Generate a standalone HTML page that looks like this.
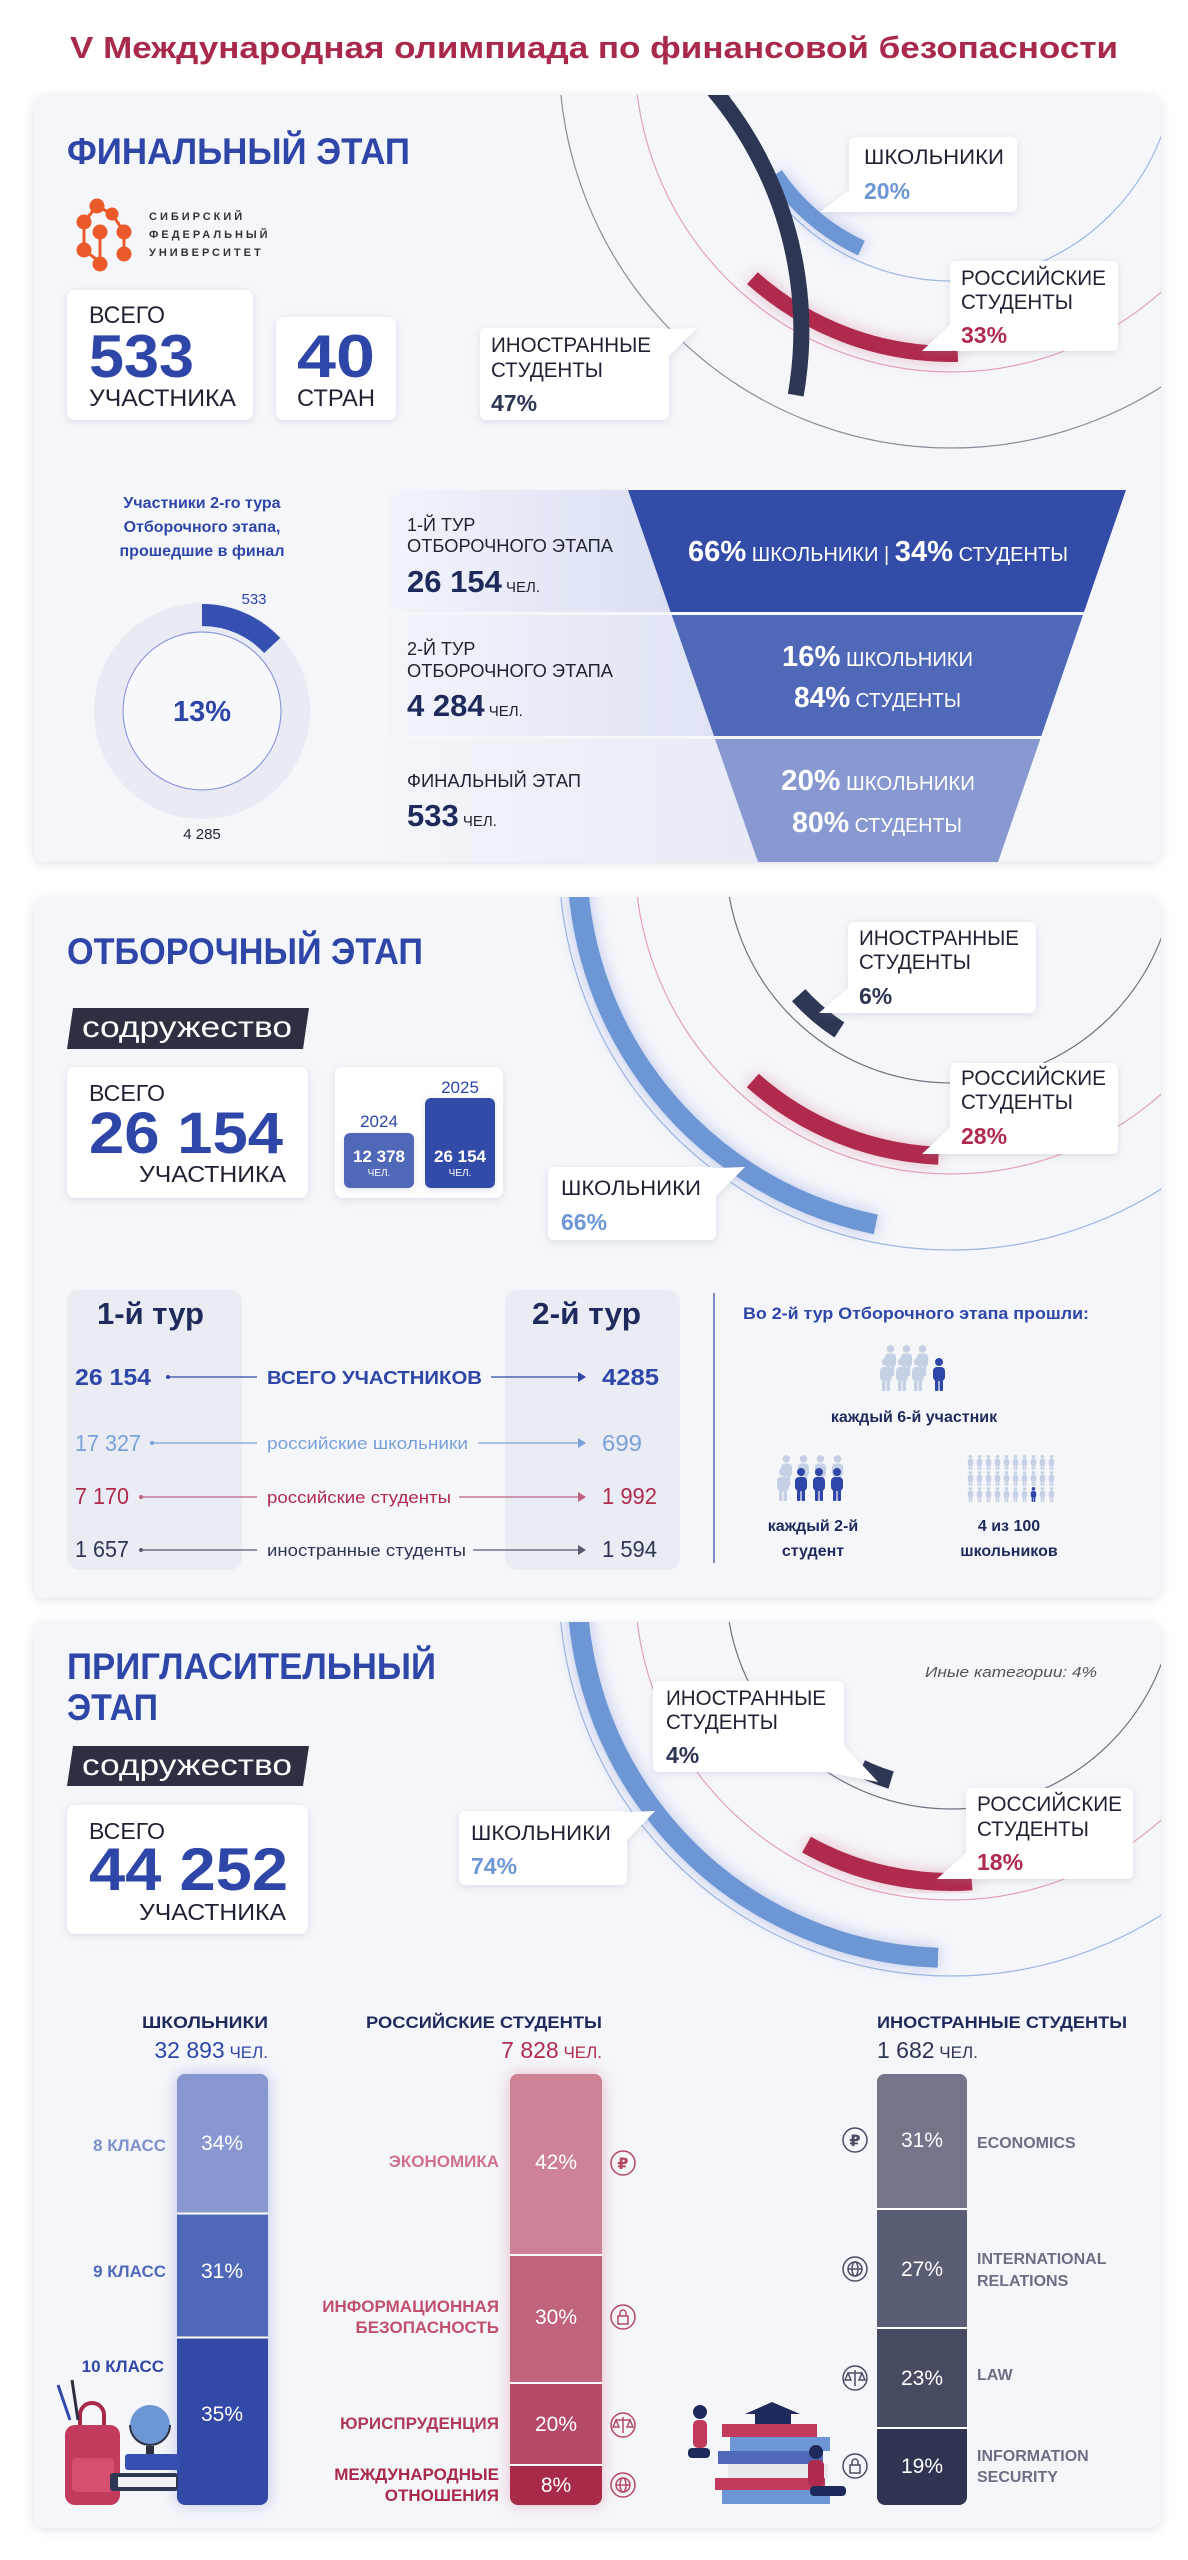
<!DOCTYPE html>
<html><head><meta charset="utf-8"><style>
html,body{margin:0;padding:0;background:#fff;}
svg{display:block;}
text{font-family:"Liberation Sans","DejaVu Sans",sans-serif;}
</style></head><body>
<svg width="1188" height="2560" viewBox="0 0 1188 2560" xmlns="http://www.w3.org/2000/svg">
<defs>
<filter id="sh" x="-20%" y="-20%" width="140%" height="140%"><feDropShadow dx="0" dy="2" stdDeviation="4" flood-color="#8890b0" flood-opacity="0.25"/></filter>
<filter id="csh" x="-5%" y="-5%" width="110%" height="110%"><feDropShadow dx="0" dy="2" stdDeviation="5" flood-color="#9098b0" flood-opacity="0.3"/></filter>
<filter id="glow" x="-30%" y="-30%" width="160%" height="160%"><feDropShadow dx="0" dy="0" stdDeviation="8" flood-color="#6d86d8" flood-opacity="0.45"/></filter>
<filter id="glowr" x="-30%" y="-30%" width="160%" height="160%"><feDropShadow dx="0" dy="0" stdDeviation="8" flood-color="#d06080" flood-opacity="0.4"/></filter>
<clipPath id="c1"><rect x="33" y="95" width="1128" height="767" rx="12"/></clipPath>
<clipPath id="c2"><rect x="33" y="897" width="1128" height="701" rx="12"/></clipPath>
<clipPath id="c3"><rect x="33" y="1622" width="1128" height="906" rx="12"/></clipPath>
<linearGradient id="band" x1="0" x2="1" y1="0" y2="0"><stop offset="0" stop-color="#f2f4fa"/><stop offset="1" stop-color="#d9dff2"/></linearGradient>
<symbol id="p" viewBox="0 0 14 33"><circle cx="7" cy="4" r="4"/><rect x="1" y="9" width="12" height="14" rx="4"/><rect x="3" y="20" width="3.4" height="13" rx="1"/><rect x="7.6" y="20" width="3.4" height="13" rx="1"/></symbol>
</defs>

<!-- Title -->
<text x="594" y="58" text-anchor="middle" font-size="31" font-weight="bold" fill="#a8294a" textLength="1048" lengthAdjust="spacingAndGlyphs">V Международная олимпиада по финансовой безопасности</text>

<!-- ============ CARD 1 ============ -->
<rect x="33" y="95" width="1128" height="767" rx="12" fill="#f5f6fa" filter="url(#csh)"/>
<g clip-path="url(#c1)" fill="none">
<circle cx="951" cy="56" r="225" stroke="#9db6e2" stroke-width="1.2"/>
<circle cx="951" cy="56" r="316" stroke="#e2a2b4" stroke-width="1.2"/>
<circle cx="951" cy="56" r="392" stroke="#8a8c9c" stroke-width="1.2"/>
<path d="M775.2,174.6 A212,212 0 0 0 861.4,248.1" stroke="#6d96d4" stroke-width="16" filter="url(#glow)"/>
<path d="M752.4,278.2 A298,298 0 0 0 957.8,353.9" stroke="#b02a4e" stroke-width="16" filter="url(#glowr)"/>
<path d="M583.7,-8.8 A373,373 0 0 1 795.7,395.1" stroke="#2d3652" stroke-width="16"/>
</g>
<text x="67" y="164" font-size="37" font-weight="bold" fill="#2e46a8" textLength="343" lengthAdjust="spacingAndGlyphs">ФИНАЛЬНЫЙ ЭТАП</text>
<!-- logo -->
<g fill="#ea5a2a" stroke="#ea5a2a" stroke-width="3">
<line x1="97" y1="206" x2="84" y2="222"/><line x1="97" y1="206" x2="112" y2="214"/><line x1="112" y1="214" x2="124" y2="232"/><line x1="84" y1="222" x2="84" y2="250"/><line x1="84" y1="250" x2="100" y2="262"/><line x1="124" y1="232" x2="124" y2="254"/><line x1="100" y1="232" x2="100" y2="262"/>
<circle cx="97" cy="206" r="6"/><circle cx="112" cy="214" r="5"/><circle cx="84" cy="222" r="6"/><circle cx="124" cy="232" r="6"/><circle cx="100" cy="232" r="6"/><circle cx="84" cy="250" r="6"/><circle cx="124" cy="254" r="6"/><circle cx="100" cy="264" r="6"/>
</g>
<g font-size="11" fill="#333" font-weight="bold" letter-spacing="3">
<text x="149" y="220">СИБИРСКИЙ</text><text x="149" y="238">ФЕДЕРАЛЬНЫЙ</text><text x="149" y="256">УНИВЕРСИТЕТ</text></g>
<!-- boxes -->
<rect x="67" y="290" width="186" height="130" rx="8" fill="#fff" filter="url(#sh)"/>
<text x="89" y="323" font-size="24" fill="#1f2233" textLength="76" lengthAdjust="spacingAndGlyphs">ВСЕГО</text>
<text x="89" y="377" font-size="60" font-weight="bold" fill="#2e46a8" textLength="105" lengthAdjust="spacingAndGlyphs">533</text>
<text x="89" y="406" font-size="24" fill="#1f2233" textLength="147" lengthAdjust="spacingAndGlyphs">УЧАСТНИКА</text>
<rect x="276" y="317" width="120" height="103" rx="8" fill="#fff" filter="url(#sh)"/>
<text x="297" y="377" font-size="60" font-weight="bold" fill="#2e46a8" textLength="78" lengthAdjust="spacingAndGlyphs">40</text>
<text x="297" y="406" font-size="24" fill="#1f2233" textLength="78" lengthAdjust="spacingAndGlyphs">СТРАН</text>
<!-- callouts -->
<g filter="url(#sh)" fill="#fff">
<rect x="849" y="137" width="168" height="75" rx="6"/><polygon points="852,188 852,212 820,212"/>
<rect x="950" y="261" width="168" height="90" rx="6"/><polygon points="953,322 953,351 922,351"/>
<rect x="480" y="328" width="189" height="92" rx="6"/><polygon points="635,330 697,328 669,356"/>
</g>
<g font-size="21" fill="#1f2233">
<text x="864" y="164" textLength="140" lengthAdjust="spacingAndGlyphs">ШКОЛЬНИКИ</text>
<text x="961" y="285" textLength="145" lengthAdjust="spacingAndGlyphs">РОССИЙСКИЕ</text>
<text x="961" y="309" textLength="112" lengthAdjust="spacingAndGlyphs">СТУДЕНТЫ</text>
<text x="491" y="352" textLength="160" lengthAdjust="spacingAndGlyphs">ИНОСТРАННЫЕ</text>
<text x="491" y="377" textLength="112" lengthAdjust="spacingAndGlyphs">СТУДЕНТЫ</text>
</g>
<g font-size="23" font-weight="bold">
<text x="864" y="199" fill="#6d96d4">20%</text>
<text x="961" y="343" fill="#b02a4e">33%</text>
<text x="491" y="411" fill="#2d3652">47%</text>
</g>
<!-- donut -->
<g font-size="16" font-weight="bold" fill="#2e46a8" text-anchor="middle">
<text x="202" y="508">Участники 2-го тура</text>
<text x="202" y="532">Отборочного этапа,</text>
<text x="202" y="556">прошедшие в финал</text>
</g>
<circle cx="202" cy="711" r="94" fill="none" stroke="#e8ebf3" stroke-width="28"/>
<circle cx="202" cy="711" r="79" fill="#f7f8fc" stroke="#8a98d8" stroke-width="1.2"/>
<path d="M202,615 A96,96 0 0 1 272.2,645.5" fill="none" stroke="#3550b0" stroke-width="22"/>
<text x="254" y="604" font-size="15" fill="#2e46a8" text-anchor="middle">533</text>
<text x="202" y="721" font-size="29" font-weight="bold" fill="#2e46a8" text-anchor="middle">13%</text>
<text x="202" y="839" font-size="15" fill="#1f2233" text-anchor="middle">4 285</text>
<!-- funnel bands -->
<rect x="388" y="490" width="290" height="122" fill="url(#band)"/>
<rect x="388" y="615" width="330" height="121" fill="url(#band)" opacity="0.8"/>
<rect x="388" y="739" width="370" height="123" fill="url(#band)" opacity="0.5"/>
<polygon points="628,490 1126,490 1084,612 670.6,612" fill="#334ca8"/>
<polygon points="671.7,615 1083,615 1041.3,736 714,736" fill="#5068b8"/>
<polygon points="715,739 1040.3,739 998,862 758,862" fill="#8898d0"/>
<g fill="#1f2233">
<text x="407" y="531" font-size="18">1-Й ТУР</text>
<text x="407" y="552" font-size="18" textLength="206" lengthAdjust="spacingAndGlyphs">ОТБОРОЧНОГО ЭТАПА</text>
<text x="407" y="592"><tspan font-size="31" font-weight="bold" fill="#1f2a5c">26 154</tspan><tspan font-size="15"> ЧЕЛ.</tspan></text>
<text x="407" y="655" font-size="18">2-Й ТУР</text>
<text x="407" y="677" font-size="18" textLength="206" lengthAdjust="spacingAndGlyphs">ОТБОРОЧНОГО ЭТАПА</text>
<text x="407" y="716"><tspan font-size="31" font-weight="bold" fill="#1f2a5c">4 284</tspan><tspan font-size="15"> ЧЕЛ.</tspan></text>
<text x="407" y="787" font-size="18" textLength="174" lengthAdjust="spacingAndGlyphs">ФИНАЛЬНЫЙ ЭТАП</text>
<text x="407" y="826"><tspan font-size="31" font-weight="bold" fill="#1f2a5c">533</tspan><tspan font-size="15"> ЧЕЛ.</tspan></text>
</g>
<g fill="#fff">
<text x="688" y="561" textLength="380" lengthAdjust="spacingAndGlyphs"><tspan font-size="29" font-weight="bold">66%</tspan><tspan font-size="20"> ШКОЛЬНИКИ | </tspan><tspan font-size="29" font-weight="bold">34%</tspan><tspan font-size="20"> СТУДЕНТЫ</tspan></text>
<text x="782" y="666" textLength="191" lengthAdjust="spacingAndGlyphs"><tspan font-size="29" font-weight="bold">16%</tspan><tspan font-size="20"> ШКОЛЬНИКИ</tspan></text>
<text x="794" y="707" textLength="167" lengthAdjust="spacingAndGlyphs"><tspan font-size="29" font-weight="bold">84%</tspan><tspan font-size="20"> СТУДЕНТЫ</tspan></text>
<text x="781" y="790" textLength="194" lengthAdjust="spacingAndGlyphs"><tspan font-size="29" font-weight="bold">20%</tspan><tspan font-size="20"> ШКОЛЬНИКИ</tspan></text>
<text x="792" y="832" textLength="170" lengthAdjust="spacingAndGlyphs"><tspan font-size="29" font-weight="bold">80%</tspan><tspan font-size="20"> СТУДЕНТЫ</tspan></text>
</g>

<!-- ============ CARD 2 ============ -->
<rect x="33" y="897" width="1128" height="701" rx="12" fill="#f5f6fa" filter="url(#csh)"/>
<g clip-path="url(#c2)" fill="none">
<circle cx="951" cy="858" r="225" stroke="#6e7080" stroke-width="1.2"/>
<circle cx="951" cy="858" r="316" stroke="#e2a2b4" stroke-width="1.2"/>
<circle cx="951" cy="858" r="392" stroke="#9db6e2" stroke-width="1.2"/>
<path d="M798.7,995.2 A205,205 0 0 0 839.4,1029.9" stroke="#2d3652" stroke-width="18"/>
<path d="M752.8,1080.5 A298,298 0 0 0 938.5,1155.7" stroke="#b02a4e" stroke-width="18" filter="url(#glowr)"/>
<path d="M582.7,793.1 A374,374 0 0 0 875.8,1224.4" stroke="#6d96d4" stroke-width="20" filter="url(#glow)" transform=""/>
</g>
<text x="67" y="964" font-size="37" font-weight="bold" fill="#2e46a8" textLength="356" lengthAdjust="spacingAndGlyphs">ОТБОРОЧНЫЙ ЭТАП</text>
<polygon points="73,1008 309,1008 303,1049 67,1049" fill="#2d3040"/>
<text x="82" y="1037" font-size="30" fill="#fff" textLength="210" lengthAdjust="spacingAndGlyphs">содружество</text>
<rect x="67" y="1067" width="241" height="131" rx="8" fill="#fff" filter="url(#sh)"/>
<text x="89" y="1101" font-size="23" fill="#1f2233" textLength="76" lengthAdjust="spacingAndGlyphs">ВСЕГО</text>
<text x="89" y="1153" font-size="58" font-weight="bold" fill="#2e46a8" textLength="194" lengthAdjust="spacingAndGlyphs">26 154</text>
<text x="286" y="1182" font-size="23" fill="#1f2233" text-anchor="end" textLength="147" lengthAdjust="spacingAndGlyphs">УЧАСТНИКА</text>
<rect x="335" y="1067" width="168" height="131" rx="8" fill="#fff" filter="url(#sh)"/>
<text x="460" y="1093" font-size="17" fill="#2e46a8" text-anchor="middle">2025</text>
<text x="379" y="1127" font-size="17" fill="#2e46a8" text-anchor="middle">2024</text>
<rect x="344" y="1133" width="70" height="55" rx="6" fill="#5068b8" filter="url(#sh)"/>
<rect x="425" y="1098" width="70" height="90" rx="6" fill="#334ca8" filter="url(#sh)"/>
<g fill="#fff" text-anchor="middle">
<text x="379" y="1162" font-size="17" font-weight="bold">12 378</text><text x="379" y="1176" font-size="10">ЧЕЛ.</text>
<text x="460" y="1162" font-size="17" font-weight="bold">26 154</text><text x="460" y="1176" font-size="10">ЧЕЛ.</text>
</g>
<g filter="url(#sh)" fill="#fff">
<rect x="848" y="922" width="188" height="91" rx="6"/><polygon points="851,985 851,1013 819,1013"/>
<rect x="950" y="1063" width="168" height="91" rx="6"/><polygon points="953,1125 953,1154 922,1154"/>
<rect x="548" y="1167" width="168" height="73" rx="6"/><polygon points="690,1169 745,1167 716,1196"/>
</g>
<g font-size="21" fill="#1f2233">
<text x="859" y="945" textLength="160" lengthAdjust="spacingAndGlyphs">ИНОСТРАННЫЕ</text>
<text x="859" y="969" textLength="112" lengthAdjust="spacingAndGlyphs">СТУДЕНТЫ</text>
<text x="961" y="1085" textLength="145" lengthAdjust="spacingAndGlyphs">РОССИЙСКИЕ</text>
<text x="961" y="1109" textLength="112" lengthAdjust="spacingAndGlyphs">СТУДЕНТЫ</text>
<text x="561" y="1195" textLength="140" lengthAdjust="spacingAndGlyphs">ШКОЛЬНИКИ</text>
</g>
<g font-size="23" font-weight="bold">
<text x="859" y="1004" fill="#2d3652">6%</text>
<text x="961" y="1144" fill="#b02a4e">28%</text>
<text x="561" y="1230" fill="#6d96d4">66%</text>
</g>
<!-- tour table -->
<rect x="67" y="1290" width="175" height="280" rx="12" fill="#e9ecf3"/>
<rect x="505" y="1290" width="175" height="280" rx="12" fill="#e9ecf3"/>
<text x="97" y="1324" font-size="31" font-weight="bold" fill="#1f2a5c" textLength="107" lengthAdjust="spacingAndGlyphs">1-й тур</text>
<text x="532" y="1324" font-size="31" font-weight="bold" fill="#1f2a5c" textLength="109" lengthAdjust="spacingAndGlyphs">2-й тур</text>
<g stroke-width="1.3" fill="none">
<line x1="168" y1="1377" x2="257" y2="1377" stroke="#2e46a8"/><line x1="491" y1="1377" x2="583" y2="1377" stroke="#2e46a8"/>
<line x1="152" y1="1443" x2="257" y2="1443" stroke="#7aa0da"/><line x1="478" y1="1443" x2="583" y2="1443" stroke="#7aa0da"/>
<line x1="141" y1="1497" x2="257" y2="1497" stroke="#c06080"/><line x1="459" y1="1497" x2="583" y2="1497" stroke="#c06080"/>
<line x1="141" y1="1550" x2="257" y2="1550" stroke="#555a70"/><line x1="473" y1="1550" x2="583" y2="1550" stroke="#555a70"/>
</g>
<polygon points="586,1377 578,1372 578,1382" fill="#2e46a8"/>
<polygon points="586,1443 578,1438 578,1448" fill="#7aa0da"/>
<polygon points="586,1497 578,1492 578,1502" fill="#c06080"/>
<polygon points="586,1550 578,1545 578,1555" fill="#555a70"/>
<circle cx="168" cy="1377" r="2" fill="#2e46a8"/><circle cx="152" cy="1443" r="2" fill="#7aa0da"/><circle cx="141" cy="1497" r="2" fill="#c06080"/><circle cx="141" cy="1550" r="2" fill="#555a70"/>
<g font-size="23">
<text x="75" y="1385" font-weight="bold" fill="#2e46a8" textLength="76" lengthAdjust="spacingAndGlyphs">26 154</text>
<text x="602" y="1385" font-weight="bold" fill="#2e46a8" textLength="57" lengthAdjust="spacingAndGlyphs">4285</text>
<text x="75" y="1451" fill="#7aa0da" textLength="66" lengthAdjust="spacingAndGlyphs">17 327</text>
<text x="602" y="1451" fill="#7aa0da" textLength="40" lengthAdjust="spacingAndGlyphs">699</text>
<text x="75" y="1504" fill="#b02a4e" textLength="54" lengthAdjust="spacingAndGlyphs">7 170</text>
<text x="602" y="1504" fill="#b02a4e" textLength="55" lengthAdjust="spacingAndGlyphs">1 992</text>
<text x="75" y="1557" fill="#2d3652" textLength="54" lengthAdjust="spacingAndGlyphs">1 657</text>
<text x="602" y="1557" fill="#2d3652" textLength="55" lengthAdjust="spacingAndGlyphs">1 594</text>
</g>
<text x="267" y="1384" font-size="18" font-weight="bold" fill="#2e46a8" textLength="215" lengthAdjust="spacingAndGlyphs">ВСЕГО УЧАСТНИКОВ</text>
<text x="267" y="1449" font-size="17" fill="#7aa0da" textLength="201" lengthAdjust="spacingAndGlyphs">российские школьники</text>
<text x="267" y="1503" font-size="17" fill="#b02a4e" textLength="184" lengthAdjust="spacingAndGlyphs">российские студенты</text>
<text x="267" y="1556" font-size="17" fill="#2d3652" textLength="199" lengthAdjust="spacingAndGlyphs">иностранные студенты</text>
<line x1="714" y1="1293" x2="714" y2="1563" stroke="#2e46a8" stroke-width="1.2"/>
<text x="743" y="1319" font-size="17" font-weight="bold" fill="#2e46a8" textLength="346" lengthAdjust="spacingAndGlyphs">Во 2-й тур Отборочного этапа прошли:</text>
<!-- people -->
<g fill="#c5d0e4">
<use href="#p" x="884" y="1345" width="13" height="31"/><use href="#p" x="900" y="1345" width="13" height="31"/><use href="#p" x="916" y="1345" width="13" height="31"/>
<use href="#p" x="879" y="1358" width="14" height="33"/><use href="#p" x="895" y="1358" width="14" height="33"/><use href="#p" x="911" y="1358" width="14" height="33"/>
</g>
<use href="#p" x="932" y="1358" width="14" height="33" fill="#2e46a8"/>
<g fill="#c5d0e4">
<use href="#p" x="780" y="1455" width="13" height="31"/><use href="#p" x="797" y="1455" width="13" height="31"/><use href="#p" x="814" y="1455" width="13" height="31"/><use href="#p" x="831" y="1455" width="13" height="31"/>
<use href="#p" x="776" y="1468" width="14" height="33"/>
</g>
<g fill="#2e46a8"><use href="#p" x="794" y="1468" width="14" height="33"/><use href="#p" x="812" y="1468" width="14" height="33"/><use href="#p" x="830" y="1468" width="14" height="33"/></g>
<g fill="#c5d0e4">
<use href="#p" x="967" y="1455" width="7" height="15"/><use href="#p" x="976" y="1455" width="7" height="15"/><use href="#p" x="985" y="1455" width="7" height="15"/><use href="#p" x="994" y="1455" width="7" height="15"/><use href="#p" x="1003" y="1455" width="7" height="15"/><use href="#p" x="1012" y="1455" width="7" height="15"/><use href="#p" x="1021" y="1455" width="7" height="15"/><use href="#p" x="1030" y="1455" width="7" height="15"/><use href="#p" x="1039" y="1455" width="7" height="15"/><use href="#p" x="1048" y="1455" width="7" height="15"/>
<use href="#p" x="967" y="1471" width="7" height="15"/><use href="#p" x="976" y="1471" width="7" height="15"/><use href="#p" x="985" y="1471" width="7" height="15"/><use href="#p" x="994" y="1471" width="7" height="15"/><use href="#p" x="1003" y="1471" width="7" height="15"/><use href="#p" x="1012" y="1471" width="7" height="15"/><use href="#p" x="1021" y="1471" width="7" height="15"/><use href="#p" x="1030" y="1471" width="7" height="15"/><use href="#p" x="1039" y="1471" width="7" height="15"/><use href="#p" x="1048" y="1471" width="7" height="15"/>
<use href="#p" x="967" y="1487" width="7" height="15"/><use href="#p" x="976" y="1487" width="7" height="15"/><use href="#p" x="985" y="1487" width="7" height="15"/><use href="#p" x="994" y="1487" width="7" height="15"/><use href="#p" x="1003" y="1487" width="7" height="15"/><use href="#p" x="1012" y="1487" width="7" height="15"/><use href="#p" x="1021" y="1487" width="7" height="15"/><use href="#p" x="1039" y="1487" width="7" height="15"/><use href="#p" x="1048" y="1487" width="7" height="15"/>
</g>
<use href="#p" x="1030" y="1487" width="7" height="15" fill="#2e46a8"/>
<g font-size="16" font-weight="bold" fill="#1f2a5c" text-anchor="middle">
<text x="914" y="1422">каждый 6-й участник</text>
<text x="813" y="1531">каждый 2-й</text><text x="813" y="1556">студент</text>
<text x="1009" y="1531">4 из 100</text><text x="1009" y="1556">школьников</text>
</g>

<!-- ============ CARD 3 ============ -->
<rect x="33" y="1622" width="1128" height="906" rx="12" fill="#f5f6fa" filter="url(#csh)"/>
<g clip-path="url(#c3)" fill="none">
<circle cx="951" cy="1584" r="225" stroke="#6e7080" stroke-width="1.2"/>
<circle cx="951" cy="1584" r="316" stroke="#e2a2b4" stroke-width="1.2"/>
<circle cx="951" cy="1584" r="392" stroke="#9db6e2" stroke-width="1.2"/>
<path d="M861.1,1768.3 A205,205 0 0 0 891.1,1780" stroke="#2d3652" stroke-width="18"/>
<path d="M806.5,1844.6 A298,298 0 0 0 971.8,1881.3" stroke="#b02a4e" stroke-width="18" filter="url(#glowr)"/>
<path d="M582.7,1519.1 A374,374 0 0 0 938,1957.8" stroke="#6d96d4" stroke-width="20" filter="url(#glow)"/>
</g>
<text x="67" y="1679" font-size="37" font-weight="bold" fill="#2e46a8" textLength="369" lengthAdjust="spacingAndGlyphs">ПРИГЛАСИТЕЛЬНЫЙ</text>
<text x="67" y="1720" font-size="37" font-weight="bold" fill="#2e46a8" textLength="91" lengthAdjust="spacingAndGlyphs">ЭТАП</text>
<polygon points="73,1746 309,1746 303,1786 67,1786" fill="#2d3040"/>
<text x="82" y="1775" font-size="30" fill="#fff" textLength="210" lengthAdjust="spacingAndGlyphs">содружество</text>
<rect x="67" y="1805" width="241" height="129" rx="8" fill="#fff" filter="url(#sh)"/>
<text x="89" y="1839" font-size="23" fill="#1f2233" textLength="76" lengthAdjust="spacingAndGlyphs">ВСЕГО</text>
<text x="89" y="1890" font-size="60" font-weight="bold" fill="#2e46a8" textLength="199" lengthAdjust="spacingAndGlyphs">44 252</text>
<text x="286" y="1920" font-size="23" fill="#1f2233" text-anchor="end" textLength="147" lengthAdjust="spacingAndGlyphs">УЧАСТНИКА</text>
<text x="925" y="1677" font-size="15" font-style="italic" fill="#555" textLength="172" lengthAdjust="spacingAndGlyphs">Иные категории: 4%</text>
<g filter="url(#sh)" fill="#fff">
<rect x="653" y="1681" width="191" height="91" rx="6"/><polygon points="841,1742 878,1782 826,1772"/>
<rect x="459" y="1811" width="168" height="74" rx="6"/><polygon points="600,1813 655,1811 627,1840"/>
<rect x="966" y="1788" width="167" height="91" rx="6"/><polygon points="969,1850 969,1879 937,1879"/>
</g>
<g font-size="21" fill="#1f2233">
<text x="666" y="1705" textLength="160" lengthAdjust="spacingAndGlyphs">ИНОСТРАННЫЕ</text>
<text x="666" y="1729" textLength="112" lengthAdjust="spacingAndGlyphs">СТУДЕНТЫ</text>
<text x="471" y="1840" textLength="140" lengthAdjust="spacingAndGlyphs">ШКОЛЬНИКИ</text>
<text x="977" y="1811" textLength="145" lengthAdjust="spacingAndGlyphs">РОССИЙСКИЕ</text>
<text x="977" y="1836" textLength="112" lengthAdjust="spacingAndGlyphs">СТУДЕНТЫ</text>
</g>
<g font-size="23" font-weight="bold">
<text x="666" y="1763" fill="#2d3652">4%</text>
<text x="471" y="1874" fill="#6d96d4">74%</text>
<text x="977" y="1870" fill="#b02a4e">18%</text>
</g>
<!-- column headers -->
<g font-size="17" font-weight="bold" fill="#1f2a5c">
<text x="142" y="2028" textLength="126" lengthAdjust="spacingAndGlyphs">ШКОЛЬНИКИ</text>
<text x="366" y="2028" textLength="236" lengthAdjust="spacingAndGlyphs">РОССИЙСКИЕ СТУДЕНТЫ</text>
<text x="877" y="2028" textLength="250" lengthAdjust="spacingAndGlyphs">ИНОСТРАННЫЕ СТУДЕНТЫ</text>
</g>
<text x="268" y="2058" text-anchor="end" fill="#2e46a8"><tspan font-size="23">32 893</tspan><tspan font-size="17"> ЧЕЛ.</tspan></text>
<text x="602" y="2058" text-anchor="end" fill="#b02a4e"><tspan font-size="23">7 828</tspan><tspan font-size="17"> ЧЕЛ.</tspan></text>
<text x="877" y="2058" fill="#2d3652"><tspan font-size="23">1 682</tspan><tspan font-size="17"> ЧЕЛ.</tspan></text>
<!-- bars -->
<g filter="url(#glow)"><rect x="177" y="2074" width="91" height="431" rx="8" fill="#3148a8"/></g>
<path d="M177,2082 a8,8 0 0 1 8,-8 h75 a8,8 0 0 1 8,8 V2213 H177Z" fill="#8897d0"/>
<rect x="177" y="2214" width="91" height="123" fill="#5068b8"/>
<line x1="177" y1="2213.5" x2="268" y2="2213.5" stroke="#fff" stroke-width="2"/>
<line x1="177" y1="2337.5" x2="268" y2="2337.5" stroke="#fff" stroke-width="2"/>
<g fill="#fff" font-size="21" text-anchor="middle">
<text x="222" y="2150">34%</text><text x="222" y="2278">31%</text><text x="222" y="2421">35%</text></g>
<g font-size="17" font-weight="bold" text-anchor="end">
<text x="166" y="2151" fill="#7f90cc">8 КЛАСС</text>
<text x="166" y="2277" fill="#5068b8">9 КЛАСС</text>
<text x="164" y="2372" fill="#3148a8">10 КЛАСС</text>
</g>
<g filter="url(#glowr)"><rect x="510" y="2074" width="92" height="431" rx="8" fill="#a8294a"/></g>
<path d="M510,2082 a8,8 0 0 1 8,-8 h76 a8,8 0 0 1 8,8 V2255 H510Z" fill="#cd8296"/>
<rect x="510" y="2255" width="92" height="128" fill="#c0647c"/>
<rect x="510" y="2383" width="92" height="82" fill="#b44a66"/>
<g stroke="#fff" stroke-width="2"><line x1="510" y1="2255" x2="602" y2="2255"/><line x1="510" y1="2383" x2="602" y2="2383"/><line x1="510" y1="2465" x2="602" y2="2465"/></g>
<g fill="#fff" font-size="21" text-anchor="middle">
<text x="556" y="2169">42%</text><text x="556" y="2324">30%</text><text x="556" y="2431">20%</text><text x="556" y="2492">8%</text></g>
<g font-size="17" font-weight="bold" text-anchor="end">
<text x="499" y="2167" fill="#d0708c">ЭКОНОМИКА</text>
<text x="499" y="2312" fill="#c0506e">ИНФОРМАЦИОННАЯ</text>
<text x="499" y="2333" fill="#c0506e">БЕЗОПАСНОСТЬ</text>
<text x="499" y="2429" fill="#b03a5a">ЮРИСПРУДЕНЦИЯ</text>
<text x="499" y="2480" fill="#a8294a">МЕЖДУНАРОДНЫЕ</text>
<text x="499" y="2501" fill="#a8294a">ОТНОШЕНИЯ</text>
</g>
<g fill="none" stroke="#b44a66" stroke-width="1.5">
<circle cx="623" cy="2163" r="12"/><circle cx="623" cy="2317" r="12"/><circle cx="623" cy="2425" r="12"/><circle cx="623" cy="2485" r="12"/>
<rect x="618" y="2316" width="10" height="8"/><path d="M620,2316 v-3 a3,3 0 0 1 6,0 v3"/>
<line x1="623" y1="2417" x2="623" y2="2433"/><line x1="616" y1="2420" x2="630" y2="2420"/><path d="M613,2427 l3,-7 l3,7 z M627,2427 l3,-7 l3,7 z"/>
<circle cx="623" cy="2485" r="7"/><line x1="616" y1="2485" x2="630" y2="2485"/><ellipse cx="623" cy="2485" rx="3" ry="7"/>
</g>
<text x="623" y="2169" font-size="16" font-weight="bold" fill="#b44a66" text-anchor="middle">₽</text>
<rect x="877" y="2074" width="90" height="431" rx="8" fill="#2f3450"/>
<path d="M877,2082 a8,8 0 0 1 8,-8 h74 a8,8 0 0 1 8,8 V2209 H877Z" fill="#737689"/>
<rect x="877" y="2209" width="90" height="119" fill="#5a5e75"/>
<rect x="877" y="2328" width="90" height="100" fill="#474b62"/>
<g stroke="#fff" stroke-width="2"><line x1="877" y1="2209" x2="967" y2="2209"/><line x1="877" y1="2328" x2="967" y2="2328"/><line x1="877" y1="2428" x2="967" y2="2428"/></g>
<g fill="#fff" font-size="21" text-anchor="middle">
<text x="922" y="2147">31%</text><text x="922" y="2276">27%</text><text x="922" y="2385">23%</text><text x="922" y="2473">19%</text></g>
<g font-size="16" font-weight="bold" fill="#6b6f84">
<text x="977" y="2148">ECONOMICS</text>
<text x="977" y="2264">INTERNATIONAL</text><text x="977" y="2286">RELATIONS</text>
<text x="977" y="2380">LAW</text>
<text x="977" y="2461">INFORMATION</text><text x="977" y="2482">SECURITY</text>
</g>
<g fill="none" stroke="#4a4e64" stroke-width="1.5">
<circle cx="855" cy="2140" r="12"/><circle cx="855" cy="2269" r="12"/><circle cx="855" cy="2378" r="12"/><circle cx="855" cy="2466" r="12"/>
<circle cx="855" cy="2269" r="7"/><line x1="848" y1="2269" x2="862" y2="2269"/><ellipse cx="855" cy="2269" rx="3" ry="7"/>
<line x1="855" y1="2370" x2="855" y2="2386"/><line x1="848" y1="2373" x2="862" y2="2373"/><path d="M845,2380 l3,-7 l3,7 z M859,2380 l3,-7 l3,7 z"/>
<rect x="850" y="2465" width="10" height="8"/><path d="M852,2465 v-3 a3,3 0 0 1 6,0 v3"/>
</g>
<text x="855" y="2146" font-size="16" font-weight="bold" fill="#4a4e64" text-anchor="middle">₽</text>
<!-- illustrations -->
<rect x="65" y="2425" width="55" height="80" rx="10" fill="#c23a5c"/>
<rect x="72" y="2458" width="42" height="34" rx="4" fill="#d4506e"/>
<path d="M80,2425 v-10 a12,12 0 0 1 24,0 v10" fill="none" stroke="#a8294a" stroke-width="4"/>
<line x1="70" y1="2420" x2="58" y2="2385" stroke="#3148a8" stroke-width="3"/>
<line x1="78" y1="2420" x2="72" y2="2380" stroke="#2d3040" stroke-width="3"/>
<circle cx="150" cy="2425" r="20" fill="#6d96d4"/>
<path d="M130,2425 a20,20 0 0 0 40,0" fill="none" stroke="#2d3040" stroke-width="2"/>
<rect x="146" y="2446" width="8" height="8" fill="#2d3040"/>
<rect x="125" y="2454" width="55" height="16" rx="3" fill="#3550b0"/>
<rect x="110" y="2473" width="68" height="18" rx="3" fill="#2d3652"/>
<rect x="118" y="2477" width="58" height="10" fill="#eef0f6"/>
<!-- student books -->
<polygon points="745,2414 800,2414 772,2402" fill="#1f2a5c"/>
<rect x="755" y="2414" width="36" height="10" fill="#1f2a5c"/>
<rect x="722" y="2424" width="95" height="13" fill="#c23a5c"/>
<rect x="730" y="2437" width="100" height="14" fill="#6d96d4"/>
<rect x="718" y="2451" width="105" height="13" fill="#5068b8"/>
<rect x="728" y="2464" width="100" height="14" fill="#e8e8ee"/>
<rect x="715" y="2478" width="110" height="12" fill="#c23a5c"/>
<rect x="722" y="2490" width="108" height="14" fill="#6d96d4"/>
<circle cx="700" cy="2412" r="7" fill="#1f2a5c"/>
<rect x="693" y="2420" width="14" height="28" rx="5" fill="#c23a5c"/>
<rect x="688" y="2448" width="22" height="10" rx="4" fill="#1f2a5c"/>
<circle cx="816" cy="2452" r="7" fill="#1f2a5c"/>
<rect x="808" y="2460" width="16" height="26" rx="5" fill="#b02a4e"/>
<rect x="810" y="2486" width="36" height="10" rx="4" fill="#1f2a5c"/>
</svg>
</body></html>
